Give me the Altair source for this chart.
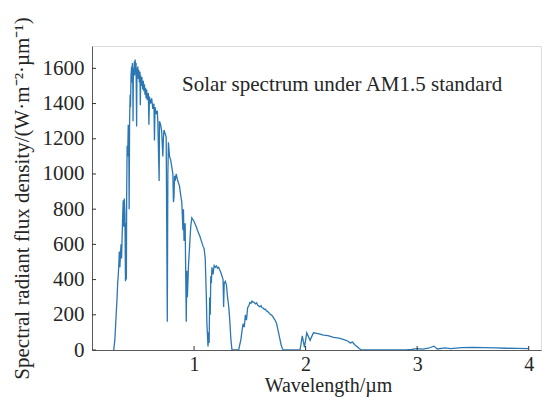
import altair as alt
import pandas as pd

# Wavelength (µm) and spectral irradiance (W·m^-2·µm^-1)
wavelength = [
    0.280, 0.290, 0.300, 0.310, 0.315, 0.320, 0.325, 0.330, 0.335, 0.340,
    0.345, 0.350, 0.355, 0.360, 0.365, 0.370, 0.375, 0.380, 0.385, 0.390,
    0.393, 0.396, 0.400, 0.405, 0.410, 0.415, 0.418, 0.422, 0.427, 0.430,
    0.435, 0.440, 0.443, 0.447, 0.450, 0.453, 0.456, 0.460, 0.465, 0.468,
    0.472, 0.476, 0.480, 0.485, 0.488, 0.492, 0.496, 0.500, 0.505, 0.510,
    0.515, 0.518, 0.522, 0.527, 0.532, 0.540, 0.545, 0.550, 0.555, 0.560,
    0.565, 0.570, 0.575, 0.580, 0.590, 0.595, 0.600, 0.610, 0.620, 0.630,
    0.640, 0.645, 0.650, 0.660, 0.670, 0.675, 0.687, 0.690, 0.700, 0.710,
    0.720, 0.725, 0.730, 0.740, 0.750, 0.760, 0.765, 0.770, 0.780, 0.790,
    0.800, 0.810, 0.815, 0.820, 0.825, 0.830, 0.840, 0.850, 0.860, 0.870,
    0.880, 0.890, 0.900, 0.905, 0.910, 0.920, 0.930, 0.935, 0.940, 0.950,
    0.960, 0.970, 0.980, 0.990, 1.000, 1.010, 1.020, 1.030, 1.040, 1.050,
    1.060, 1.070, 1.080, 1.090, 1.100, 1.110, 1.115, 1.125, 1.130, 1.135,
    1.140, 1.145, 1.150, 1.155, 1.160, 1.170, 1.180, 1.190, 1.200, 1.210,
    1.220, 1.230, 1.240, 1.250, 1.260, 1.265, 1.270, 1.280, 1.290, 1.300,
    1.310, 1.320, 1.330, 1.340, 1.400, 1.410, 1.420, 1.430, 1.440, 1.450,
    1.460, 1.470, 1.480, 1.490, 1.500, 1.510, 1.520, 1.530, 1.540, 1.550,
    1.560, 1.570, 1.580, 1.590, 1.600, 1.610, 1.620, 1.630, 1.640, 1.650,
    1.660, 1.670, 1.680, 1.690, 1.700, 1.710, 1.720, 1.730, 1.740, 1.750,
    1.760, 1.770, 1.780, 1.790, 1.800, 1.950, 1.970, 1.990, 2.010, 2.040,
    2.070, 2.100, 2.130, 2.160, 2.200, 2.250, 2.300, 2.350, 2.380, 2.400,
    2.420, 2.440, 2.460, 2.480, 2.500, 2.900, 2.950, 3.000, 3.050, 3.100,
    3.150, 3.180, 3.250, 3.300, 3.400, 3.500, 3.600, 3.700, 3.800, 3.900,
    4.000,
]
irradiance = [
    0, 60, 180, 300, 380, 420, 480, 560, 470, 540,
    600, 520, 640, 760, 850, 700, 860, 780, 390, 720,
    400, 900, 1160, 1100, 1280, 1200, 800, 1300, 1450, 1380,
    1560, 1610, 1520, 1630, 1580, 1300, 1600, 1560, 1640, 1560,
    1650, 1590, 1630, 1270, 1600, 1560, 1610, 1540, 1590, 1520,
    1580, 1390, 1560, 1500, 1550, 1480, 1530, 1470, 1510, 1450,
    1490, 1430, 1480, 1420, 1460, 1280, 1440, 1400, 1430, 1370,
    1400, 1190, 1380, 1340, 1360, 1300, 960, 1300, 1280, 1240,
    1100, 1200, 1250, 1230, 1210, 160, 1000, 1180, 1100, 1080,
    1040, 1000, 840, 870, 990, 960, 1000, 970, 950, 930,
    880, 840, 680, 800, 620, 720, 160, 450, 300, 480,
    590, 700, 750, 740, 730, 715, 700, 680, 665, 650,
    630, 610, 590, 575, 520, 300, 150, 20, 100, 40,
    300, 200, 420, 380, 470, 430, 480, 470, 478, 465,
    470, 455, 440, 420, 400, 245, 380, 390, 370, 300,
    250, 170, 60, 0, 0, 30, 60, 110, 150, 130,
    200, 170, 240, 250, 270, 265, 278, 272, 270, 262,
    268, 255, 250, 245, 252, 240, 238, 230, 232, 222,
    218, 212, 205, 200, 195, 185, 175, 165, 150, 120,
    90, 60, 30, 10, 0, 0, 80, 15, 98, 55,
    98, 95, 90, 85, 82, 72, 68, 58, 50, 40,
    45, 30, 20, 8, 0, 0, 3, 8, 5, 10,
    22, 6, 12, 8, 13, 15, 14, 12, 10, 9,
    8,
]

x_ticks = [1, 2, 3, 4]
y_ticks = [0, 200, 400, 600, 800, 1000, 1200, 1400, 1600]
x_title = "Wavelength/µm"
y_title = "Spectral radiant flux density/(W·m⁻²·µm⁻¹)"
annotation = ["Solar spectrum under AM1.5 standard"]

FONT = "Liberation Serif"
TXT = "#262626"
AXC = "#5a5a5a"
LINE = "#2b77b3"

df = pd.DataFrame({"wl": wavelength, "v": irradiance})
xs = alt.Scale(domain=[0.085, 4.11], nice=False, zero=False)
ys = alt.Scale(domain=[0, 1727], nice=False)

x_axis = alt.Axis(
    values=x_ticks, title=x_title, format="d", grid=False, ticks=False,
    labelPadding=4, titlePadding=1, titleX=236,
    labelFont=FONT, labelFontSize=20, labelColor=TXT,
    titleFont=FONT, titleFontSize=20, titleFontWeight="normal", titleColor=TXT,
    domainColor=AXC, domainWidth=1)
y_axis = alt.Axis(
    values=y_ticks, title=y_title, format="d", grid=False, ticks=False,
    labelPadding=8, titlePadding=10,
    labelFont=FONT, labelFontSize=21, labelColor=TXT,
    titleFont=FONT, titleFontSize=21, titleFontWeight="normal", titleColor=TXT,
    domainColor=AXC, domainWidth=1)

line = alt.Chart(df).mark_line(color=LINE, strokeWidth=1.3, clip=True).encode(
    x=alt.X("wl:Q", scale=xs, axis=x_axis),
    y=alt.Y("v:Q", scale=ys, axis=y_axis),
)

ytick = alt.Chart(pd.DataFrame({"v": y_ticks})).mark_rule(color="#333333", strokeWidth=1).encode(
    y=alt.Y("v:Q", scale=ys, axis=y_axis), x=alt.value(0), x2=alt.value(4))
xtick = alt.Chart(pd.DataFrame({"wl": x_ticks})).mark_rule(color="#333333", strokeWidth=1).encode(
    x=alt.X("wl:Q", scale=xs, axis=x_axis), y=alt.value(304), y2=alt.value(300))

label = alt.Chart(pd.DataFrame({"label": annotation})).mark_text(
    align="left", baseline="middle", font=FONT, fontSize=21, color=TXT
).encode(x=alt.value(90), y=alt.value(39), text="label:N")

chart = alt.layer(line, ytick, xtick, label).properties(
    width=449, height=304,
    autosize=alt.AutoSizeParams(type="none"),
    padding={"left": 92, "top": 46, "right": 1, "bottom": 47},
).configure_view(stroke=AXC, strokeWidth=1).configure(background="white")

chart.save("out.html", embed_options={"renderer": "svg", "actions": False})
